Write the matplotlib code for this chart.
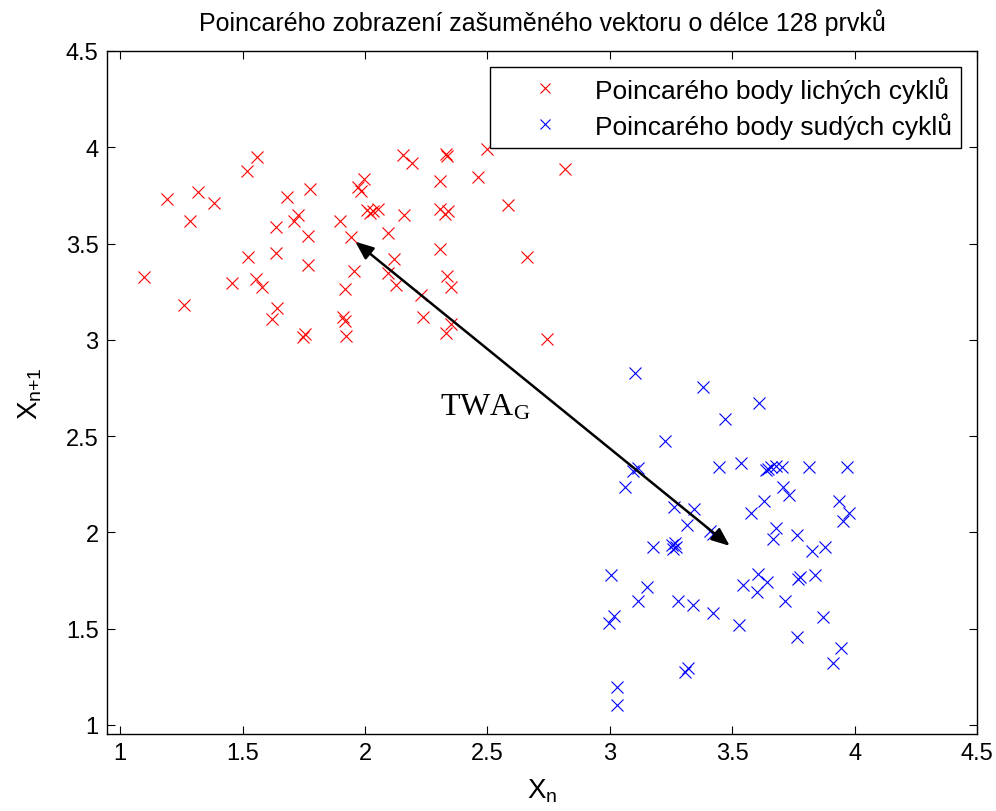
import matplotlib.pyplot as plt
import numpy as np

# Poincaré body lichých cyklů (x_n, x_n+1)
odd_x = [1.557, 1.516, 1.190, 1.319, 1.384, 1.285, 1.680, 1.775, 1.727, 1.711,
         1.636, 1.768, 1.897, 1.941, 1.523, 1.636, 1.768, 1.098, 1.458, 1.554,
         1.580, 1.261, 1.639, 1.621, 1.755, 1.748, 1.911, 1.918, 1.918, 1.921,
         2.154, 2.193, 2.330, 2.333, 2.497, 2.817, 1.996, 1.972, 1.982, 2.306,
         2.462, 2.585, 2.007, 2.031, 2.054, 2.020, 2.159, 2.306, 2.326, 2.341,
         2.095, 2.306, 2.660, 2.118, 1.956, 2.095, 2.126, 2.333, 2.350, 2.227,
         2.235, 2.350, 2.330, 2.742]
odd_y = [3.948, 3.875, 3.730, 3.770, 3.711, 3.616, 3.740, 3.783, 3.648, 3.619,
         3.585, 3.541, 3.616, 3.533, 3.429, 3.449, 3.389, 3.325, 3.295, 3.316,
         3.275, 3.181, 3.164, 3.108, 3.031, 3.013, 3.117, 3.100, 3.264, 3.022,
         3.960, 3.917, 3.965, 3.953, 3.991, 3.887, 3.835, 3.795, 3.775, 3.823,
         3.844, 3.700, 3.676, 3.671, 3.680, 3.659, 3.648, 3.680, 3.654, 3.671,
         3.553, 3.472, 3.429, 3.420, 3.356, 3.347, 3.287, 3.330, 3.273, 3.233,
         3.117, 3.082, 3.036, 3.005]

# Poincaré body sudých cyklů
even_x = [3.103, 3.379, 3.609, 3.470, 3.225, 3.096, 3.116, 3.446, 3.534, 3.639,
          3.658, 3.679, 3.703, 3.813, 3.969, 3.708, 3.732, 3.062, 3.630, 3.576,
          3.263, 3.345, 3.314, 3.409, 3.423, 3.680, 3.665, 3.177, 3.253, 3.268,
          3.260, 3.936, 3.977, 3.954, 3.764, 3.827, 3.879, 3.779, 3.770, 3.838,
          3.715, 3.869, 3.766, 3.943, 3.913, 3.003, 3.150, 3.116, 3.279, 3.338,
          3.420, 3.527, 3.545, 3.606, 3.641, 3.600, 3.017, 2.996, 3.320, 3.307,
          3.028, 3.028, 3.648, 3.272]
even_y = [2.827, 2.754, 2.672, 2.589, 2.477, 2.321, 2.335, 2.338, 2.361, 2.322,
          2.342, 2.346, 2.339, 2.339, 2.339, 2.238, 2.195, 2.235, 2.165, 2.101,
          2.131, 2.122, 2.040, 2.009, 1.992, 2.022, 1.966, 1.926, 1.932, 1.947,
          1.915, 2.165, 2.101, 2.061, 1.987, 1.902, 1.926, 1.767, 1.758, 1.779,
          1.646, 1.563, 1.459, 1.399, 1.322, 1.781, 1.719, 1.646, 1.646, 1.624,
          1.582, 1.521, 1.729, 1.785, 1.741, 1.689, 1.565, 1.530, 1.295, 1.274,
          1.199, 1.106, 2.330, 1.925]

# konce šipky TWA_G
arrow_start = (1.96, 3.51)
arrow_end = (3.49, 1.93)

plt.rcParams['font.family'] = ['Liberation Sans', 'DejaVu Sans']

fig = plt.figure(figsize=(9.96, 8.12), dpi=100)
ax = fig.add_axes([0.1074, 0.0948, 0.8735, 0.8412])

ax.plot(odd_x, odd_y, 'x', color='red', ms=9, mew=0.8,
        label='Poincarého body lichých cyklů')
ax.plot(even_x, even_y, 'x', color='blue', ms=9, mew=0.8,
        label='Poincarého body sudých cyklů')

# oboustranná šipka mezi shluky
ax.annotate('', xy=arrow_end, xytext=arrow_start,
            arrowprops=dict(arrowstyle='<|-|>,head_length=1.1,head_width=0.45',
                            color='black', lw=1.8, shrinkA=0, shrinkB=0))
ax.text(2.306, 2.61, r'$\mathregular{TWA_G}$', family='Liberation Serif',
        fontsize=23, color='black')

ax.set_xlim(0.946, 4.5)
ax.set_ylim(0.953, 4.5)
ax.set_xticks(np.arange(1, 4.51, 0.5))
ax.set_yticks(np.arange(1, 4.51, 0.5))
ax.set_xticklabels(['1', '1.5', '2', '2.5', '3', '3.5', '4', '4.5'])
ax.set_yticklabels(['1', '1.5', '2', '2.5', '3', '3.5', '4', '4.5'])
ax.tick_params(direction='in', top=True, right=True, length=6, width=0.8,
               labelsize=17, pad=6)
for s in ax.spines.values():
    s.set_linewidth(1.0)

ax.set_title('Poincarého zobrazení zašuměného vektoru o délce 128 prvků',
             fontsize=18, pad=15)
ax.set_xlabel(r'$\mathregular{X_n}$', fontsize=20, labelpad=9)
ax.set_ylabel(r'$\mathregular{X_{n{+}1}}$', fontsize=20, labelpad=16)

leg = ax.legend(loc='upper right', fontsize=19, fancybox=False, framealpha=1,
                edgecolor='black', borderpad=0.35, handletextpad=0.15,
                handlelength=3.47, borderaxespad=0.6, markerscale=0.8,
                labelspacing=0.35)
leg.get_frame().set_linewidth(1.0)

fig.savefig('out.png', dpi=100)
